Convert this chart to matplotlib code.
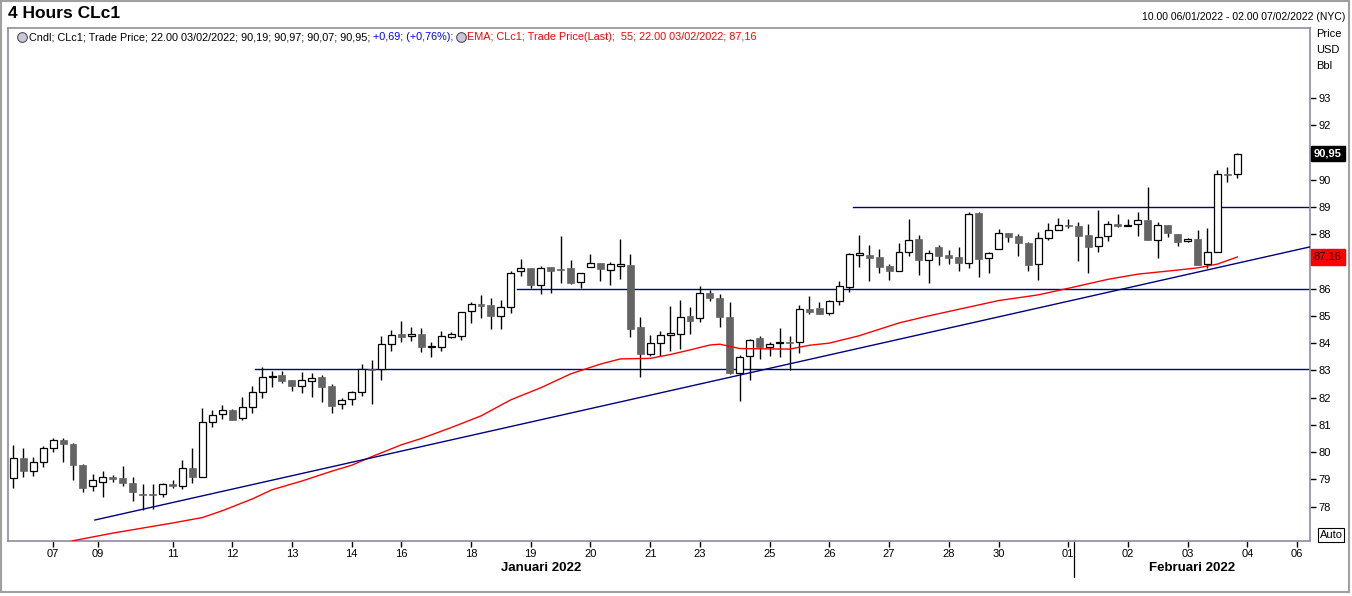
import numpy as np
import matplotlib
matplotlib.use("Agg")
import matplotlib.pyplot as plt
import matplotlib.transforms as mtransforms
from matplotlib.lines import Line2D
from matplotlib.patches import Rectangle

plt.rcParams['font.family'] = ['Liberation Sans', 'DejaVu Sans']

####### Datos: velas de 4 horas CLc1 (06/01 - 03/02/2022) #######

opens = [79.04, 79.78, 79.29, 79.62, 80.14, 80.45, 80.29, 79.53, 78.76, 78.90,
         79.08, 79.04, 78.88, 78.47, 78.47, 78.47, 78.83, 78.74, 79.41, 79.10,
         81.10, 81.39, 81.55, 81.24, 81.67, 82.20, 82.75, 82.83, 82.65, 82.42,
         82.62, 82.76, 82.43, 81.76, 81.94, 82.20, 83.06, 83.04, 83.97, 84.34,
         84.26, 84.34, 83.85, 83.87, 84.24, 84.27, 85.17, 85.43, 85.40, 84.98,
         85.31, 86.63, 86.74, 86.12, 86.78, 86.73, 86.76, 86.23, 86.78, 86.93,
         86.67, 86.82, 86.87, 84.58, 83.59, 83.99, 84.29, 84.35, 85.00, 84.91,
         85.83, 85.64, 84.95, 82.89, 83.52, 84.19, 83.87, 84.00, 84.05, 84.03,
         85.24, 85.29, 85.09, 85.54, 86.07, 87.25, 87.23, 87.15, 86.83, 86.66,
         87.33, 87.81, 87.04, 87.51, 87.23, 87.15, 86.93, 88.76, 87.11, 87.44,
         88.03, 87.93, 87.68, 86.89, 87.84, 88.15, 88.33, 88.30, 87.97, 87.55,
         87.93, 88.36, 88.31, 88.36, 88.50, 87.78, 88.32, 87.99, 87.74, 87.82,
         86.89, 87.33, 90.22, 90.19]
highs = [80.26, 80.14, 79.81, 80.24, 80.51, 80.53, 80.33, 79.57, 79.20, 79.32,
         79.17, 79.49, 79.10, 78.83, 78.83, 78.85, 78.98, 79.71, 80.17, 81.61,
         81.55, 81.73, 81.59, 82.01, 82.43, 83.11, 82.98, 82.98, 82.65, 82.94,
         82.89, 82.83, 82.50, 82.00, 82.26, 83.23, 83.38, 84.26, 84.48, 84.81,
         84.60, 84.54, 84.05, 84.44, 84.39, 85.13, 85.52, 85.77, 85.65, 85.58,
         86.64, 87.07, 86.74, 86.83, 86.78, 87.93, 87.05, 86.56, 87.27, 86.93,
         86.96, 87.81, 87.27, 84.95, 84.29, 84.46, 85.36, 85.58, 85.31, 86.10,
         85.95, 85.80, 85.50, 83.56, 84.15, 84.26, 84.05, 84.54, 84.26, 85.40,
         85.73, 85.50, 85.58, 86.29, 87.31, 87.97, 87.60, 87.44, 86.90, 87.68,
         88.55, 87.97, 87.41, 87.60, 87.41, 87.51, 88.80, 88.82, 87.35, 88.19,
         88.03, 88.00, 87.72, 88.06, 88.39, 88.58, 88.54, 88.46, 88.37, 88.88,
         88.48, 88.73, 88.56, 88.81, 89.71, 88.46, 88.32, 87.99, 87.85, 88.15,
         88.23, 90.35, 90.45, 90.97]
lows = [78.68, 79.08, 79.14, 79.47, 80.00, 79.65, 78.98, 78.55, 78.59, 78.37,
        78.90, 78.76, 78.19, 77.88, 77.90, 78.37, 78.70, 78.64, 78.88, 79.08,
        80.94, 81.23, 81.18, 81.18, 81.45, 81.98, 82.38, 82.52, 82.26, 82.16,
        82.04, 81.85, 81.43, 81.60, 81.72, 82.06, 81.77, 82.65, 83.72, 84.05,
        84.08, 83.69, 83.50, 83.72, 84.20, 84.11, 84.73, 84.91, 84.53, 84.50,
        85.09, 86.46, 86.01, 85.79, 85.83, 86.19, 86.17, 86.01, 86.78, 86.29,
        86.14, 86.36, 84.24, 82.77, 83.51, 83.51, 83.72, 83.78, 84.34, 84.77,
        85.55, 84.60, 82.86, 81.89, 82.65, 83.42, 83.51, 83.49, 83.01, 83.65,
        85.05, 85.08, 85.03, 85.40, 85.89, 86.80, 86.29, 86.56, 86.31, 86.63,
        87.20, 86.50, 86.19, 86.87, 86.90, 86.63, 86.77, 86.44, 86.59, 87.44,
        87.72, 87.20, 86.66, 86.31, 87.77, 88.15, 88.21, 87.02, 86.56, 87.35,
        87.76, 88.26, 88.28, 87.94, 87.77, 87.11, 87.90, 87.56, 87.70, 86.87,
        86.74, 87.33, 89.92, 90.07]
closes = [79.78, 79.29, 79.65, 80.14, 80.45, 80.29, 79.51, 78.70, 78.98, 79.08,
          79.00, 78.86, 78.52, 78.44, 78.44, 78.83, 78.74, 79.41, 79.10, 81.10,
          81.35, 81.55, 81.18, 81.67, 82.20, 82.75, 82.79, 82.62, 82.44, 82.65,
          82.72, 82.40, 81.71, 81.91, 82.21, 83.06, 83.03, 83.97, 84.30, 84.24,
          84.34, 83.85, 83.90, 84.26, 84.32, 85.13, 85.42, 85.37, 85.01, 85.31,
          86.56, 86.74, 86.14, 86.74, 86.66, 86.69, 86.19, 86.56, 86.93, 86.73,
          86.89, 86.90, 84.51, 83.59, 83.99, 84.29, 84.37, 84.97, 84.82, 85.83,
          85.64, 84.95, 82.89, 83.50, 84.10, 83.87, 83.97, 84.04, 84.02, 85.24,
          85.15, 85.08, 85.53, 86.08, 87.27, 87.29, 87.13, 86.80, 86.66, 87.33,
          87.77, 87.05, 87.29, 87.21, 87.13, 86.93, 88.72, 87.10, 87.29, 88.03,
          87.90, 87.66, 86.87, 87.84, 88.15, 88.33, 88.28, 87.94, 87.54, 87.90,
          88.36, 88.30, 88.35, 88.50, 87.77, 88.32, 88.03, 87.72, 87.82, 86.88,
          87.33, 90.20, 90.16, 90.95]

# EMA 55 (indice de vela -> precio)
ema_idx = [5, 6, 10, 16, 19, 21, 24, 26, 29, 32, 34, 36, 39, 41, 44, 47, 50, 53,
           56, 59, 61, 64, 66, 68, 70, 71, 73, 78, 80, 82, 85, 89, 92, 95, 99,
           103, 106, 110, 113, 117, 119, 121, 122, 123]
ema_val = [76.60, 76.75, 77.03, 77.40, 77.60, 77.85, 78.28, 78.62, 78.94, 79.30,
           79.52, 79.83, 80.27, 80.50, 80.90, 81.33, 81.92, 82.36, 82.87, 83.23,
           83.42, 83.44, 83.58, 83.75, 83.93, 83.96, 83.80, 83.78, 83.92, 84.00,
           84.27, 84.74, 85.00, 85.24, 85.56, 85.77, 86.01, 86.34, 86.53, 86.68,
           86.76, 86.90, 87.03, 87.16]

# linea de tendencia y niveles horizontales
trend_idx = [8.2, 130.3]
trend_val = [77.51, 87.53]
level_val = [83.05, 86.0, 89.0]
level_start = [24.3, 50.6, 84.4]

xtick_pos = [4, 8.5, 16, 22, 28, 34, 39, 46, 52, 58, 64, 69, 76, 82, 88, 94, 99,
             106, 112, 118, 124, 129]
xtick_lab = ['07', '09', '11', '12', '13', '14', '16', '18', '19', '20', '21',
             '23', '25', '26', '27', '28', '30', '01', '02', '03', '04', '06']
ytick_val = list(range(78, 94))
month_sep = 106.55

last_close = 90.95
last_ema = 87.16

####### Constantes #######
W_PX = 1352
H_PX = 596
DOWN_COLOR = '#646464'
LINE_BLUE = '#000080'
SPINE_COLOR = '#8c8ca0'
FS = 8
FS_LEG = 7.8

fig = plt.figure(figsize=(W_PX / 100, H_PX / 100), dpi=100)
ax = fig.add_axes([8 / W_PX, 1 - 541 / H_PX, (1310 - 8) / W_PX, (541 - 28) / H_PX])

x = np.arange(len(closes))
o = np.array(opens)
c = np.array(closes)
up = c >= o

# mechas
ax.vlines(x, lows, highs, color='black', lw=1.0, zorder=2)
# cuerpos
body = np.maximum(np.abs(c - o), 0.03)
bottom = np.minimum(o, c)
ax.bar(x[up], body[up], bottom=bottom[up], width=0.7, color='white',
       edgecolor='black', lw=0.9, zorder=3)
ax.bar(x[~up], body[~up], bottom=bottom[~up], width=0.7, color=DOWN_COLOR,
       edgecolor=DOWN_COLOR, lw=0.5, zorder=3)

ax.plot(ema_idx, ema_val, color='red', lw=1.0, zorder=4)
ax.plot(trend_idx, trend_val, color=LINE_BLUE, lw=1.0, zorder=4)
for lv, st in zip(level_val, level_start):
    ax.plot([st, 131], [lv, lv], color=LINE_BLUE, lw=1.0, zorder=1)

ax.set_xlim(-0.53, 130.3)
ax.set_ylim(76.74, 95.56)

for s in ax.spines.values():
    s.set_color(SPINE_COLOR)
    s.set_linewidth(1.2)

# las etiquetas 91 y 87 quedan tapadas por las cajas de valor
hidden = [round(last_close), round(last_ema)]
ax.yaxis.tick_right()
ax.set_yticks(ytick_val)
ax.set_yticklabels(['' if v in hidden else str(v) for v in ytick_val])
ax.set_xticks(xtick_pos)
ax.set_xticklabels(xtick_lab)
ax.tick_params(axis='both', direction='out', length=4, width=1, color='black',
               labelsize=FS, pad=2)

# separador de mes
trans = mtransforms.blended_transform_factory(ax.transData, ax.transAxes)
ax.plot([month_sep, month_sep], [0, -0.07], transform=trans, color='black',
        lw=0.9, clip_on=False)

fig.text(541 / W_PX, 1 - 568 / H_PX, 'Januari 2022', ha='center', va='center',
         fontsize=9.5, fontweight='bold')
fig.text(1192 / W_PX, 1 - 568 / H_PX, 'Februari 2022', ha='center', va='center',
         fontsize=9.5, fontweight='bold')

# etiquetas de valor a la derecha
trans_y = mtransforms.blended_transform_factory(ax.transAxes, ax.transData)
ax.text(1.003, last_close, f'{last_close:.2f}'.replace('.', ','), transform=trans_y,
        ha='left', va='center', fontsize=FS, color='white', fontweight='bold',
        bbox=dict(boxstyle='square,pad=0.25', fc='black', ec='black'), clip_on=False)
ax.text(1.003, last_ema, f'{last_ema:.2f}'.replace('.', ','), transform=trans_y,
        ha='left', va='center', fontsize=FS, color='black',
        bbox=dict(boxstyle='square,pad=0.25', fc='red', ec='red'), clip_on=False)

fig.text(1316 / W_PX, 1 - 34 / H_PX, 'Price', fontsize=FS, va='center')
fig.text(1316 / W_PX, 1 - 50 / H_PX, 'USD', fontsize=FS, va='center')
fig.text(1316 / W_PX, 1 - 66 / H_PX, 'Bbl', fontsize=FS, va='center')
fig.text(1331 / W_PX, 1 - 535 / H_PX, 'Auto', fontsize=FS, ha='center', va='center',
         bbox=dict(boxstyle='square,pad=0.15', fc='white', ec='black', lw=0.8))

# encabezado
fig.text(8 / W_PX, 1 - 13 / H_PX, '4 Hours CLc1', fontsize=12.5, fontweight='bold',
         va='center')
fig.text(1345 / W_PX, 1 - 17 / H_PX, '10.00 06/01/2022 - 02.00 07/02/2022 (NYC)',
         fontsize=7.5, ha='right', va='center')

# leyenda en una linea
fig.canvas.draw()
rend = fig.canvas.get_renderer()
LEG_Y = 1 - 37 / H_PX


def icono(xp):
    fig.add_artist(Line2D([xp / W_PX], [LEG_Y], marker='o', markersize=7,
                          mfc='#c8c8d8', mec='#505060', mew=0.8,
                          transform=fig.transFigure))


def trozo(xp, s, color):
    t = fig.text(xp / W_PX, LEG_Y, s, fontsize=FS_LEG, color=color, ha='left', va='center')
    return t.get_window_extent(renderer=rend).x1


icono(22)
xp = trozo(29, 'Cndl; CLc1; Trade Price; 22.00 03/02/2022; 90,19; 90,97; 90,07; 90,95;', 'black')
xp = trozo(xp + 3, '+0,69; (+0,76%);', 'blue')
icono(xp + 7)
trozo(xp + 13, 'EMA; CLc1; Trade Price(Last);  55; 22.00 03/02/2022; 87,16', 'red')

# marco exterior
fig.add_artist(Rectangle((0.001, 0.006), 0.997, 0.992, transform=fig.transFigure,
                         fill=False, ec='#a0a0a0', lw=1.5))

fig.savefig('out.png', dpi=100)
